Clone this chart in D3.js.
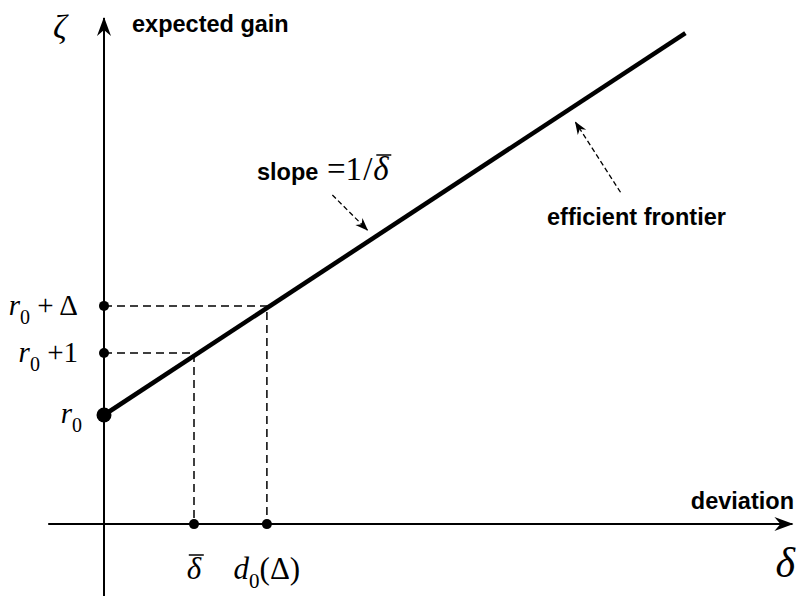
<!DOCTYPE html>
<html>
<head>
<meta charset="utf-8">
<script src="https://cdn.jsdelivr.net/npm/d3@7"></script>
<style>
  body { margin: 0; background: #fff; }
  .sans { font-family: "Liberation Sans", Arial, Helvetica, sans-serif; font-weight: bold; }
  .serif { font-family: "Liberation Serif", "Times New Roman", Times, serif; }
</style>
</head>
<body>
<svg id="chart"></svg>
<script>
// chart units: delta-bar = 1, r0 = 1
const r0 = 1;
const frontierDelta = [0, 6.46];
const frontierZeta = [1, 7.16];
const levelZeta = [2, 2.76];     // r0 + 1, r0 + Delta
const levelDelta = [1, 1.81];    // delta-bar, d0(Delta)
const levelNames = ["+1", "+\u2009\u0394"];
const xAxisExtent = [-0.62, 7.66];
const yAxisExtent = [-1.94, 7.42];
const xAxisAt = -0.76;

const width = 804, height = 596;
const svg = d3.select("#chart").attr("width", width).attr("height", height);

const x = d3.scaleLinear().domain([0, 1]).range([104, 194]);
const y = d3.scaleLinear().domain([1, 2]).range([415, 353]);

const defs = svg.append("defs");
defs.append("marker")
  .attr("id", "axisHead")
  .attr("markerUnits", "userSpaceOnUse")
  .attr("viewBox", "-20 -8 22 16")
  .attr("markerWidth", 22).attr("markerHeight", 16)
  .attr("refX", 0).attr("refY", 0)
  .attr("orient", "auto")
  .append("path")
  .attr("d", "M1,0 L-18,-7 L-12,0 L-18,7 Z")
  .attr("fill", "#000");
defs.append("marker")
  .attr("id", "noteHead")
  .attr("markerUnits", "userSpaceOnUse")
  .attr("viewBox", "-14 -6 16 12")
  .attr("markerWidth", 16).attr("markerHeight", 12)
  .attr("refX", 0).attr("refY", 0)
  .attr("orient", "auto")
  .append("path")
  .attr("d", "M1,0 L-12,-5 L-8,0 L-12,5 Z")
  .attr("fill", "#000");

// axes
svg.append("line")
  .attr("x1", x(xAxisExtent[0])).attr("x2", x(xAxisExtent[1]) - 1)
  .attr("y1", y(xAxisAt)).attr("y2", y(xAxisAt))
  .attr("stroke", "#000").attr("stroke-width", 2)
  .attr("marker-end", "url(#axisHead)");
svg.append("line")
  .attr("x1", x(0)).attr("x2", x(0))
  .attr("y1", y(yAxisExtent[0])).attr("y2", y(yAxisExtent[1]) + 1)
  .attr("stroke", "#000").attr("stroke-width", 2)
  .attr("marker-end", "url(#axisHead)");

// dashed guides
levelZeta.forEach((z, i) => {
  svg.append("path")
    .attr("d", d3.line()([[x(0), y(z)], [x(levelDelta[i]), y(z)], [x(levelDelta[i]), y(xAxisAt)]]))
    .attr("fill", "none").attr("stroke", "#000")
    .attr("stroke-width", 1.5).attr("stroke-dasharray", "8,5");
});

// frontier
const frontier = frontierDelta.map((d, i) => [x(d), y(frontierZeta[i])]);
svg.append("path")
  .attr("d", d3.line()(frontier))
  .attr("fill", "none").attr("stroke", "#000")
  .attr("stroke-width", 4.5);

// dots
svg.selectAll(".lvl").data(levelZeta).enter().append("circle")
  .attr("cx", x(0)).attr("cy", d => y(d)).attr("r", 5);
svg.selectAll(".dev").data(levelDelta).enter().append("circle")
  .attr("cx", d => x(d)).attr("cy", y(xAxisAt)).attr("r", 5);
svg.append("circle").attr("cx", x(0)).attr("cy", y(r0)).attr("r", 7.5);

// axis titles
svg.append("text").attr("class", "sans").attr("font-size", 23.5)
  .attr("x", 132).attr("y", 32).text("expected gain");
svg.append("text").attr("class", "sans").attr("font-size", 23.5)
  .attr("x", 794).attr("y", 509).attr("text-anchor", "end").text("deviation");
svg.append("text").attr("class", "serif").attr("font-size", 34).attr("font-style", "italic")
  .attr("x", 53).attr("y", 38).text("\u03B6");
svg.append("text").attr("class", "serif").attr("font-size", 42).attr("font-style", "italic")
  .attr("x", 795).attr("y", 577).attr("text-anchor", "end").text("\u03B4");

// y level labels
function rLabel(xr, yb, rest) {
  const t = svg.append("text").attr("class", "serif").attr("font-size", 29)
    .attr("x", xr).attr("y", yb).attr("text-anchor", "end");
  t.append("tspan").attr("font-style", "italic").text("r");
  t.append("tspan").attr("font-size", 20).attr("dy", 9).text("0");
  if (rest) t.append("tspan").attr("dy", -9).text(" " + rest);
}
rLabel(82, 423, null);
levelZeta.forEach((z, i) => rLabel(78, y(z) + 9, levelNames[i]));

// x level labels
const dbar = svg.append("text").attr("class", "serif").attr("font-size", 31).attr("font-style", "italic")
  .attr("x", x(levelDelta[0])).attr("y", 579).attr("text-anchor", "middle").text("\u03B4");
const db = dbar.node().getBBox();
svg.append("line").attr("x1", db.x + 2).attr("x2", db.x + db.width + 2)
  .attr("y1", 555).attr("y2", 555).attr("stroke", "#000").attr("stroke-width", 1.5);

const d0 = svg.append("text").attr("class", "serif").attr("font-size", 31)
  .attr("x", x(levelDelta[1])).attr("y", 579).attr("text-anchor", "middle");
d0.append("tspan").attr("font-style", "italic").text("d");
d0.append("tspan").attr("font-size", 21).attr("dy", 9).text("0");
d0.append("tspan").attr("dy", -9).text("(\u0394)");

// slope note
svg.append("text").attr("class", "sans").attr("font-size", 23.5)
  .attr("x", 257).attr("y", 180).text("slope");
const sl = svg.append("text").attr("class", "serif").attr("font-size", 33)
  .attr("x", 327).attr("y", 180);
sl.append("tspan").text("=1");
sl.append("tspan").attr("dx", 1).text("/");
const sd = sl.append("tspan").attr("font-style", "italic").attr("dx", 1).text("\u03B4");
const sb = sd.node().getBBox();
svg.append("line").attr("x1", sb.x + 3).attr("x2", sb.x + sb.width + 2)
  .attr("y1", 155).attr("y2", 155).attr("stroke", "#000").attr("stroke-width", 1.5);

function along(t) {
  return [frontier[0][0] + t * (frontier[1][0] - frontier[0][0]),
          frontier[0][1] + t * (frontier[1][1] - frontier[0][1])];
}
const p1 = along(0.453);
svg.append("line")
  .attr("x1", p1[0] - 35).attr("y1", p1[1] - 47)
  .attr("x2", p1[0]).attr("y2", p1[1] - 12)
  .attr("stroke", "#000").attr("stroke-width", 1.3).attr("stroke-dasharray", "5,3")
  .attr("marker-end", "url(#noteHead)");

const p2 = along(0.811);
svg.append("line")
  .attr("x1", p2[0] + 45).attr("y1", p2[1] + 87)
  .attr("x2", p2[0]).attr("y2", p2[1] + 17)
  .attr("stroke", "#000").attr("stroke-width", 1.3).attr("stroke-dasharray", "5,3")
  .attr("marker-end", "url(#noteHead)");
svg.append("text").attr("class", "sans").attr("font-size", 23.5)
  .attr("x", 547).attr("y", 225).text("efficient frontier");
</script>
</body>
</html>
